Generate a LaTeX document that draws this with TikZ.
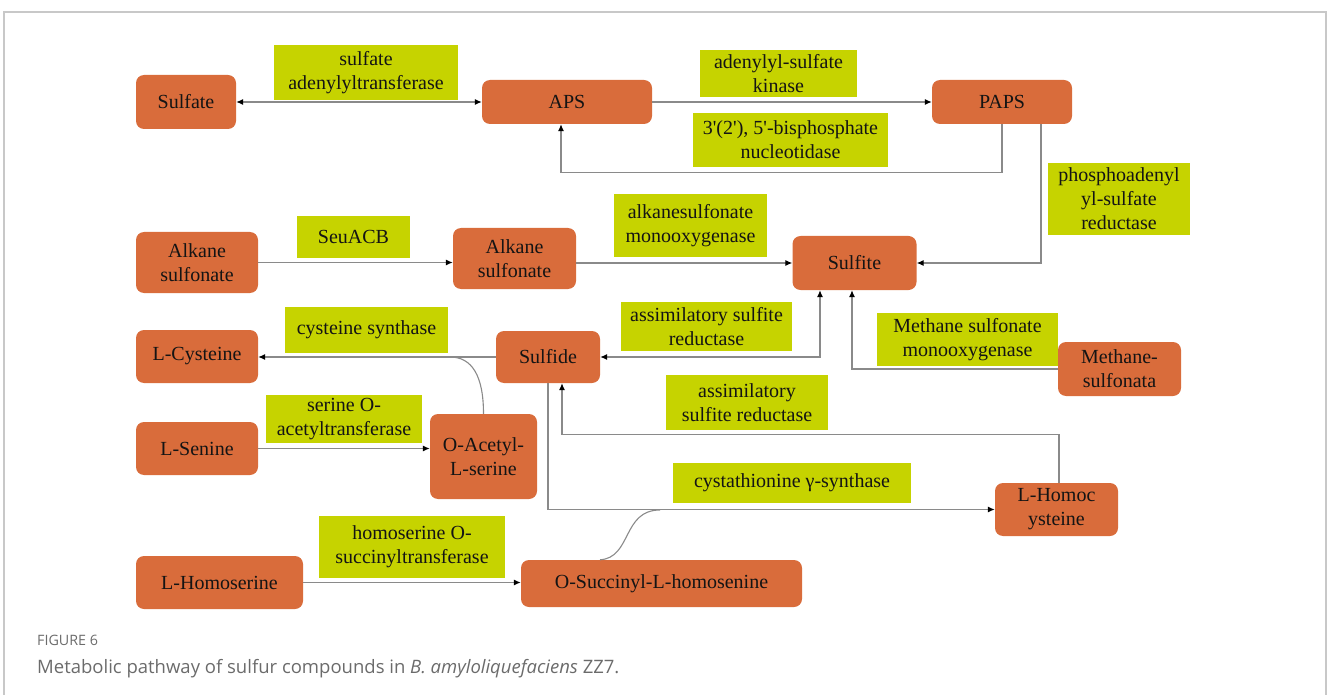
\documentclass[tikz,border=0pt]{standalone}
\usepackage{fontspec}
\setmainfont{Liberation Serif}[Ligatures=TeXOff]
\newfontfamily\capfont{Open Sans}
\usetikzlibrary{arrows.meta}
\definecolor{orangebox}{HTML}{D96C3B}
\definecolor{greenbox}{HTML}{C6D300}
\definecolor{conngray}{HTML}{8A8A8A}
\definecolor{framegray}{HTML}{C8C8C8}
\definecolor{capgray}{HTML}{6B6B6B}
\definecolor{textdark}{HTML}{141414}
\begin{document}
\begin{tikzpicture}[x=1pt,y=-1pt,
  obox/.style={rounded corners=8pt, fill=orangebox, draw=none, inner sep=0pt, align=center,
    text=textdark, font=\fontsize{20}{24}\selectfont},
  gbox/.style={fill=greenbox, draw=none, inner sep=0pt, align=center,
    text=textdark, font=\fontsize{20}{24}\selectfont},
  conn/.style={draw=conngray, line width=1.1pt},
  tip/.style={-{Latex[length=7pt,width=6pt,color=black]}},
  dtip/.style={{Latex[length=7pt,width=6pt,color=black]}-{Latex[length=7pt,width=6pt,color=black]}}
]
\useasboundingbox (0,0) rectangle (1328,695);
% frame
\draw[framegray, line width=1.5pt] (4,700) -- (4,12) -- (1326,12) -- (1326,700);

% green labels
\node[gbox, minimum width=184pt, minimum height=55pt] (g1) at (366,72.5) {sulfate\\adenylyltransferase};
\node[gbox, minimum width=157pt, minimum height=47pt] (g2) at (778.5,73.5) {adenylyl-sulfate\\kinase};
\node[gbox, minimum width=195pt, minimum height=54pt] (g3) at (790.5,140) {3'(2'), 5'-bisphosphate\\nucleotidase};
\node[gbox, minimum width=142pt, minimum height=72pt] (g4) at (1119,199) {phosphoadenyl\\yl-sulfate\\reductase};
\node[gbox, minimum width=113pt, minimum height=42pt] (g5) at (353.5,237) {SeuACB};
\node[gbox, minimum width=153pt, minimum height=63pt] (g6) at (690.5,225.5) {alkanesulfonate\\monooxygenase};
\node[gbox, minimum width=163pt, minimum height=46pt] (g7) at (366.5,330) {cysteine synthase};
\node[gbox, minimum width=171pt, minimum height=49pt] (g8) at (706.5,326.5) {assimilatory sulfite\\reductase};
\node[gbox, minimum width=181pt, minimum height=53pt] (g9) at (967.5,339.5) {Methane sulfonate\\monooxygenase};
\node[gbox, minimum width=162pt, minimum height=55pt] (g10) at (747,402.5) {assimilatory\\sulfite reductase};
\node[gbox, minimum width=156pt, minimum height=48pt] (g11) at (344,419) {serine O-\\acetyltransferase};
\node[gbox, minimum width=238pt, minimum height=40pt] (g12) at (792,483) {cystathionine γ-synthase};
\node[gbox, minimum width=186pt, minimum height=62pt] (g13) at (412,547) {homoserine O-\\succinyltransferase};

% orange compounds
\node[obox, minimum width=100pt, minimum height=54pt] (sulfate) at (186,102) {Sulfate};
\node[obox, minimum width=170pt, minimum height=44pt] (aps) at (567,102) {APS};
\node[obox, minimum width=140pt, minimum height=44pt] (paps) at (1002,102) {PAPS};
\node[obox, minimum width=122pt, minimum height=61pt] (alk1) at (197,262.5) {Alkane\\sulfonate};
\node[obox, minimum width=123pt, minimum height=61pt] (alk2) at (514.5,258.5) {Alkane\\sulfonate};
\node[obox, minimum width=124pt, minimum height=54pt] (sulfite) at (854.5,263) {Sulfite};
\node[obox, minimum width=122pt, minimum height=53pt] (cys) at (197,356.5) {L-Cysteine};
\node[obox, minimum width=104pt, minimum height=52pt] (sulfide) at (548,357) {Sulfide};
\node[obox, minimum width=123pt, minimum height=54pt] (methane) at (1119.5,369) {Methane-\\sulfonata};
\node[obox, minimum width=122pt, minimum height=53pt] (senine) at (197,448.5) {L-Senine};
\node[obox, minimum width=107pt, minimum height=85pt] (oacetyl) at (483.5,456.5) {O-Acetyl-\\L-serine};
\node[obox, minimum width=123pt, minimum height=53pt] (homoc) at (1056.5,509.5) {L-Homoc\\ysteine};
\node[obox, minimum width=167pt, minimum height=53pt] (homoser) at (219.5,582.5) {L-Homoserine};
\node[obox, minimum width=281pt, minimum height=47pt] (osucc) at (661.5,583.5) {O-Succinyl-L-homosenine};

% junction points of the merging curves
\coordinate (j1) at (450,357);
\coordinate (j2) at (660,510);

% connectors
\draw[conn, dtip] (sulfate.east) -- (aps.west);
\draw[conn, tip] (aps.east) -- (paps.west);
\draw[conn, tip] (paps.south) -- ++(0,48) -| ([xshift=-6pt]aps.south);
\draw[conn, tip] ([xshift=39pt]paps.south) |- (sulfite.east);
\draw[conn, tip] (alk1.east) -- (alk1.east -| alk2.west);
\draw[conn, tip] (alk2.east |- sulfite.west) -- (sulfite.west);
\draw[conn, dtip] ([xshift=-34.5pt]sulfite.south) |- (sulfide.east);
\draw[conn, tip] (methane.west) -| ([xshift=-2.5pt]sulfite.south);
\draw[conn, tip] (sulfide.west) -- (sulfide.west -| cys.east);
\draw[conn] (oacetyl.north) .. controls +(0,-38) and +(22,0) .. (j1);
\draw[conn, tip] (senine.east) -- (senine.east -| oacetyl.west);
\draw[conn, tip] (sulfide.south) |- (homoc.west);
\draw[conn, tip] ([xshift=2.5pt]homoc.north) -- ++(0,-48) -| ([xshift=14pt]sulfide.south);
\draw[conn] ([xshift=-61.5pt]osucc.north) .. controls +(32,-2) and +(-38,0) .. (j2);
\draw[conn, tip] (homoser.east) -- (homoser.east -| osucc.west);

% caption
\node[anchor=base west, inner sep=0pt, text=capgray, font=\capfont\fontsize{14.3}{16}\selectfont] (figlabel) at (37,645) {FIGURE 6};
\node[anchor=base west, inner sep=0pt, text=capgray, font=\capfont\fontsize{18.5}{20}\selectfont] (caption) at (37,673) {Metabolic pathway of sulfur compounds in \textit{B. amyloliquefaciens} ZZ7.};
\end{tikzpicture}
\end{document}
